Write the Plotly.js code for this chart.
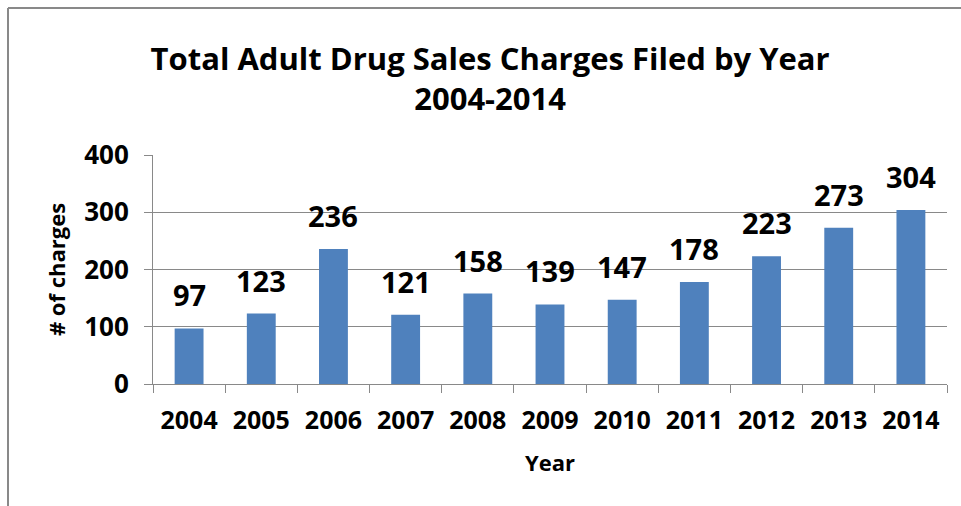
<!DOCTYPE html>
<html><head><meta charset="utf-8">
<script src="https://cdn.plot.ly/plotly-3.0.1.min.js"></script>
<style>html,body{margin:0;padding:0;background:#fff}#c{width:961px;height:506px}</style>
</head><body><div id="c"></div>
<script>
const years = ['2004','2005','2006','2007','2008','2009','2010','2011','2012','2013','2014'];
const charges = [97,123,236,121,158,139,147,178,223,273,304];
const yTicks = [0,100,200,300,400];

const F = '"Open Sans", Lato, "DejaVu Sans", sans-serif';
const L = 153, R = 14, T = 155, B = 122, W = 961, H = 506;
const pw = W - L - R, ph = H - T - B;
const px = x => (x - L) / pw;
const py = y => (H - B - y) / ph;

const labels = years.map((yr, i) => ({
  x: i, y: charges[i], xref: 'x', yref: 'y', text: '<b>' + charges[i] + '</b>',
  showarrow: false, yanchor: 'bottom', yshift: 12,
  font: {family: F, size: 29, color: '#000'}
}));

Plotly.newPlot('c', [{
  type: 'bar', x: years, y: charges,
  marker: {color: '#4F81BD'}, hoverinfo: 'none'
}], {
  width: W, height: H,
  margin: {l: L, r: R, t: T, b: B},
  paper_bgcolor: '#fff', plot_bgcolor: '#fff',
  bargap: 0.6,
  showlegend: false,
  title: {text: '<b>Total Adult Drug Sales Charges Filed by Year<br>2004-2014</b>',
    font: {family: F, size: 31, color: '#000'}, x: 0.51, xanchor: 'center', y: 0.862, yanchor: 'top'},
  xaxis: {
    type: 'category', categoryorder: 'array', categoryarray: years,
    range: [-0.5, years.length - 0.5],
    showgrid: false, showline: true, linecolor: '#898989', linewidth: 1,
    ticks: 'outside', ticklen: 8, tickcolor: '#898989', tickson: 'boundaries',
    ticklabelstandoff: 14, tickangle: 0,
    tickfont: {family: F, size: 25, color: '#000', weight: 'bold'},
    title: {text: '<b>Year</b>', font: {family: F, size: 22, color: '#000'}, standoff: 20}
  },
  yaxis: {
    range: [0, 400], tickvals: yTicks, showgrid: true, gridcolor: '#898989', gridwidth: 1,
    showline: true, linecolor: '#898989', ticks: 'outside', ticklen: 8, tickcolor: '#898989',
    zeroline: false, ticklabelstandoff: 10,
    tickfont: {family: F, size: 26, color: '#000', weight: 'bold'},
    title: {text: '<b># of charges</b>', font: {family: F, size: 22, color: '#000'}, standoff: 12}
  },
  annotations: labels,
  shapes: [
    {type: 'line', xref: 'paper', yref: 'paper', x0: px(8), x1: px(961), y0: py(8), y1: py(8), line: {color: '#898989', width: 2}},
    {type: 'line', xref: 'paper', yref: 'paper', x0: px(8), x1: px(8), y0: py(8), y1: py(506), line: {color: '#898989', width: 2}}
  ]
}, {displayModeBar: false, staticPlot: true});
</script></body></html>
